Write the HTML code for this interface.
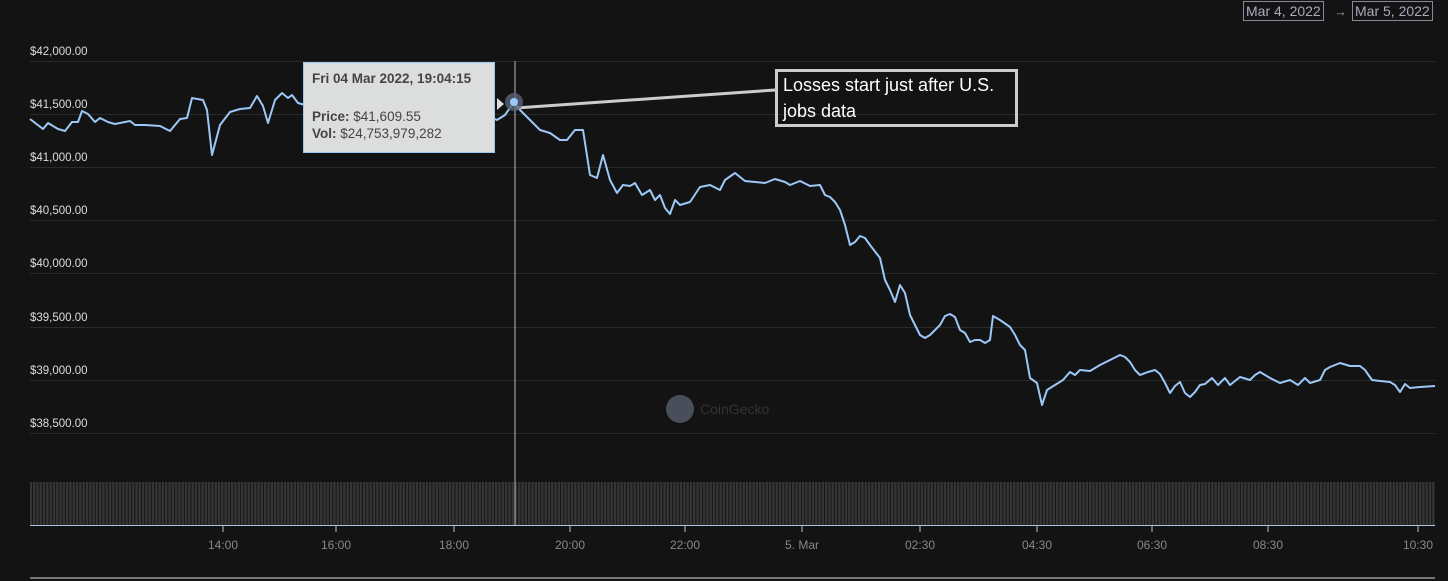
<!DOCTYPE html>
<html><head><meta charset="utf-8"><style>
body{margin:0;background:#131313;width:1448px;height:581px;overflow:hidden;font-family:"Liberation Sans",sans-serif;position:relative}
.yl{position:absolute;left:30px;font-size:11.5px;color:#ddd}
.xl{position:absolute;top:538px;font-size:12px;color:#888;transform:translateX(-50%)}
.date{position:absolute;top:1px;font-size:14px;color:#aab;border:1px solid #889;padding:1px 2px}
.tt{position:absolute;left:303px;top:62px;width:192px;height:91px;background:#dcdedd;border:1px solid #9cc8f0;font-size:13.5px;color:#444;box-sizing:border-box;padding:7px 8px;line-height:17px}
.ann{position:absolute;left:775px;top:69px;width:243px;height:58px;border:3px solid #ccc;box-sizing:border-box;color:#fff;font-size:18px;padding:0 5px;line-height:26px}
</style></head><body>
<svg width="1448" height="581" style="position:absolute;left:0;top:0">
<defs><pattern id="vb" width="3.3" height="50" patternUnits="userSpaceOnUse"><rect width="2.4" height="50" fill="#353535"/></pattern></defs>
<g stroke="#2a2a2a" stroke-width="1">
<line x1="30" x2="1435" y1="61.5" y2="61.5"/><line x1="30" x2="1435" y1="114.5" y2="114.5"/><line x1="30" x2="1435" y1="167.5" y2="167.5"/><line x1="30" x2="1435" y1="220.5" y2="220.5"/><line x1="30" x2="1435" y1="273.5" y2="273.5"/><line x1="30" x2="1435" y1="327.5" y2="327.5"/><line x1="30" x2="1435" y1="380.5" y2="380.5"/><line x1="30" x2="1435" y1="433.5" y2="433.5"/>
</g>
<rect x="30" y="482" width="1405" height="43" fill="url(#vb)"/>
<line x1="30" x2="1435" y1="525.5" y2="525.5" stroke="#aac4dc" stroke-width="1"/>
<g stroke="#aac4dc"><line x1="223" x2="223" y1="525" y2="532"/><line x1="336" x2="336" y1="525" y2="532"/><line x1="454" x2="454" y1="525" y2="532"/><line x1="570" x2="570" y1="525" y2="532"/><line x1="685" x2="685" y1="525" y2="532"/><line x1="802" x2="802" y1="525" y2="532"/><line x1="920" x2="920" y1="525" y2="532"/><line x1="1037" x2="1037" y1="525" y2="532"/><line x1="1152" x2="1152" y1="525" y2="532"/><line x1="1268" x2="1268" y1="525" y2="532"/><line x1="1418" x2="1418" y1="525" y2="532"/></g>
<line x1="30" x2="1435" y1="578" y2="578" stroke="#777" stroke-width="2"/>
<line x1="515" x2="515" y1="61" y2="525" stroke="#bbb" stroke-width="1"/>
<circle cx="680" cy="409" r="14" fill="#4a4e5a"/>
<text x="700" y="414" font-size="14" fill="#333" font-family="Liberation Sans">CoinGecko</text>
<polyline fill="none" stroke="#9cc8f8" stroke-width="2" stroke-linejoin="round" points="30,119 43,129 48,123 58,129 65,131 72,122 78,122 82,111 88,114 95,122 100,118 108,122 115,124 125,122 130,121 135,125 145,125 160,126 170,131 180,119 187,118 192,98 203,100 207,110 212,155 220,125 230,112 240,109 250,108 257,96 263,106 268,123 275,100 282,93 288,98 292,95 298,103 305,105 350,105 400,108 450,110 480,112 497,120 505,115 514,102 520,110 530,120 540,130 550,133 560,140 567,140 575,130 583,130 590,175 597,178 603,155 610,180 617,193 623,185 630,186 635,183 642,195 650,190 655,200 660,195 665,208 670,214 675,200 680,205 690,202 700,187 710,185 720,190 725,180 735,173 745,181 755,182 765,183 775,179 785,182 790,185 800,181 810,186 820,185 825,195 830,197 835,202 840,210 845,225 850,245 855,242 860,236 865,238 870,245 880,258 885,280 890,290 895,302 900,285 905,293 910,315 915,325 920,335 925,338 930,335 935,330 940,325 945,316 950,314 955,317 960,330 965,333 970,342 975,340 980,340 985,343 990,340 993,316 1000,320 1010,327 1015,335 1020,345 1025,350 1030,378 1037,383 1042,405 1047,390 1055,385 1063,380 1070,372 1075,375 1080,370 1090,371 1100,365 1110,360 1120,355 1125,357 1130,362 1135,370 1140,375 1148,372 1155,370 1160,374 1165,383 1170,393 1175,386 1180,382 1185,393 1190,397 1195,392 1200,385 1205,384 1212,378 1218,385 1225,378 1230,385 1240,377 1250,380 1255,375 1260,372 1270,378 1280,383 1290,380 1298,385 1305,378 1310,383 1320,380 1325,370 1330,367 1340,363 1350,366 1360,366 1365,370 1372,380 1380,381 1390,382 1395,385 1400,392 1405,384 1410,388 1420,387 1435,386"/>
<line x1="516" x2="775" y1="108" y2="90" stroke="#ccc" stroke-width="3"/>
<circle cx="514" cy="102" r="9" fill="#5a6478" opacity="0.8"/>
<circle cx="514" cy="102" r="4" fill="#9cc8f8"/>
<polygon points="497,98 504,104 497,110" fill="#dcdedd"/>
</svg>
<div class="yl" style="top:46px">$42,000.00</div>
<div class="yl" style="top:99px">$41,500.00</div>
<div class="yl" style="top:152px">$41,000.00</div>
<div class="yl" style="top:205px">$40,500.00</div>
<div class="yl" style="top:258px">$40,000.00</div>
<div class="yl" style="top:312px">$39,500.00</div>
<div class="yl" style="top:365px">$39,000.00</div>
<div class="yl" style="top:418px">$38,500.00</div>
<div class="xl" style="left:223px">14:00</div><div class="xl" style="left:336px">16:00</div><div class="xl" style="left:454px">18:00</div><div class="xl" style="left:570px">20:00</div><div class="xl" style="left:685px">22:00</div><div class="xl" style="left:802px">5. Mar</div><div class="xl" style="left:920px">02:30</div><div class="xl" style="left:1037px">04:30</div><div class="xl" style="left:1152px">06:30</div><div class="xl" style="left:1268px">08:30</div><div class="xl" style="left:1418px">10:30</div>
<div class="date" style="left:1243px">Mar 4, 2022</div>
<div style="position:absolute;left:1334px;top:4px;color:#999;font-size:13px">→</div>
<div class="date" style="left:1352px">Mar 5, 2022</div>
<div class="tt"><b>Fri 04 Mar 2022, 19:04:15</b><div style="height:21px"></div><b>Price:</b> $41,609.55<br><b>Vol:</b> $24,753,979,282</div>
<div class="ann">Losses start just after U.S.<br>jobs data</div>
</body></html>
